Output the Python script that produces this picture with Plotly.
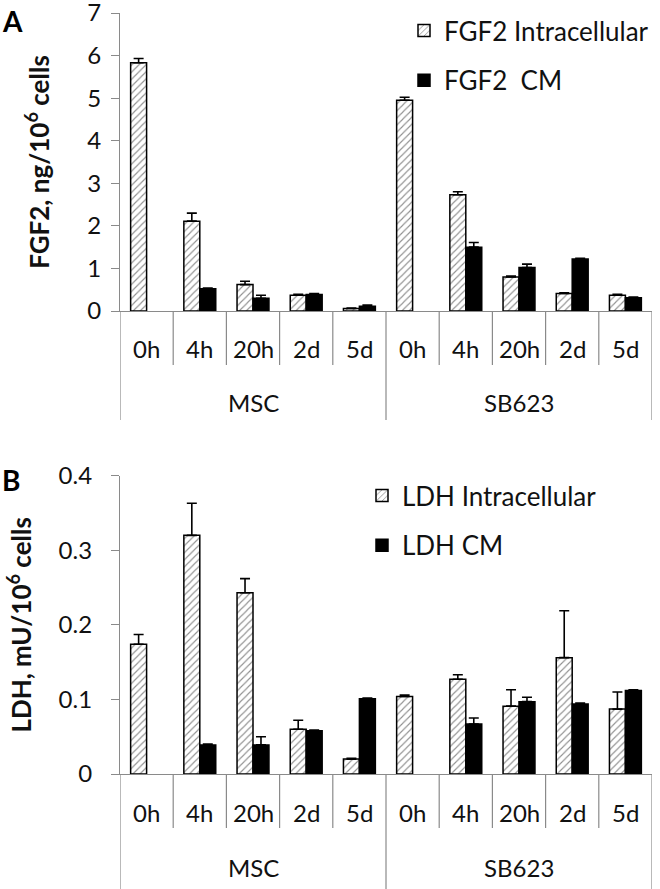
import plotly.graph_objects as go

# ---------------- data ----------------
time_points = ["0h", "4h", "20h", "2d", "5d"]
cell_groups = ["MSC", "SB623"]
categories = [t for g in cell_groups for t in time_points]

fgf2_intra = [5.83, 2.11, 0.62, 0.37, 0.06, 4.95, 2.73, 0.80, 0.41, 0.37]
fgf2_intra_err = [0.10, 0.19, 0.08, 0.02, 0.01, 0.07, 0.07, 0.02, 0.02, 0.02]
fgf2_cm = [None, 0.52, 0.30, 0.39, 0.11, None, 1.50, 1.02, 1.22, 0.31]
fgf2_cm_err = [0, 0.02, 0.07, 0.02, 0.03, 0, 0.11, 0.08, 0.02, 0.02]

ldh_intra = [0.174, 0.320, 0.243, 0.060, 0.020, 0.104, 0.127, 0.091, 0.156, 0.087]
ldh_intra_err = [0.013, 0.043, 0.019, 0.012, 0.001, 0.002, 0.006, 0.022, 0.063, 0.023]
ldh_cm = [None, 0.039, 0.039, 0.058, 0.101, None, 0.067, 0.097, 0.094, 0.112]
ldh_cm_err = [0, 0.001, 0.011, 0.001, 0.001, 0, 0.008, 0.006, 0.001, 0.001]

# ---------------- layout helpers ----------------
W, H = 660, 889
FONT = "Lato"
AXCOL = "#8a8a8a"
TXT = "#111111"


def py(p):
    """pixel row -> paper y"""
    return (H - p) / H


def px(p):
    """pixel column -> paper x"""
    return p / W


xpos = list(range(len(categories)))
x_dom = [px(120), px(652)]
top_dom = [py(311), py(13)]
bot_dom = [py(774), py(475.7)]

fig = go.Figure()

hatch = dict(shape="/", fgcolor="#222222", bgcolor="white", size=5, solidity=0.22)


def add_pair(intra, intra_err, cm, cm_err, name_i, name_c, xa, ya, leg):
    fig.add_trace(go.Bar(
        x=xpos, y=intra, name=name_i, xaxis=xa, yaxis=ya, legend=leg,
        marker=dict(color="white", pattern=hatch, line=dict(color="black", width=1.5)),
        error_y=dict(type="data", symmetric=False, array=intra_err,
                     arrayminus=[0] * len(intra_err), color="black", thickness=1.6, width=5),
    ))
    fig.add_trace(go.Bar(
        x=xpos, y=cm, name=name_c, xaxis=xa, yaxis=ya, legend=leg,
        marker=dict(color="black", line=dict(color="black", width=1.5)),
        error_y=dict(type="data", symmetric=False, array=cm_err,
                     arrayminus=[0] * len(cm_err), color="black", thickness=1.6, width=5),
    ))


add_pair(fgf2_intra, fgf2_intra_err, fgf2_cm, fgf2_cm_err,
         "FGF2 Intracellular", "FGF2  CM", "x", "y", "legend")
add_pair(ldh_intra, ldh_intra_err, ldh_cm, ldh_cm_err,
         "LDH Intracellular", "LDH CM", "x2", "y2", "legend2")

xaxis_common = dict(
    range=[-0.5, len(categories) - 0.5], domain=x_dom, automargin=False,
    tickmode="array", tickvals=xpos, showticklabels=False,
    showline=True, linecolor=AXCOL, linewidth=1.2, ticks="", showgrid=False, zeroline=False,
)
yaxis_common = dict(
    showline=True, linecolor=AXCOL, linewidth=1.2, ticks="outside", ticklen=8,
    tickcolor=AXCOL, showgrid=False, zeroline=False, automargin=False,
    ticklabeloverflow="allow",
    tickfont=dict(family=FONT, size=24, color=TXT),
)
fig.update_layout(
    xaxis=dict(anchor="y", **xaxis_common),
    xaxis2=dict(anchor="y2", **xaxis_common),
    yaxis=dict(domain=top_dom, range=[0, 7], dtick=1, anchor="x", ticklabelstandoff=5,
               title=dict(text="<b>FGF2, ng/10<sup>6</sup> cells</b>", standoff=30,
                          font=dict(family=FONT, size=26, color=TXT)),
               **yaxis_common),
    yaxis2=dict(domain=bot_dom, range=[0, 0.4], dtick=0.1, anchor="x2", ticklabelstandoff=14,
                title=dict(text="<b>LDH, mU/10<sup>6</sup> cells</b>", standoff=19,
                           font=dict(family=FONT, size=26, color=TXT)),
                **yaxis_common),
    barmode="group", bargap=0.4, bargroupgap=0,
    width=W, height=H, margin=dict(l=0, r=0, t=0, b=0, autoexpand=False),
    paper_bgcolor="white", plot_bgcolor="white",
    font=dict(family=FONT, size=24, color=TXT),
    legend=dict(x=px(404), y=py(7), xanchor="left", yanchor="top",
                font=dict(family=FONT, size=26, color=TXT), tracegroupgap=13,
                bgcolor="rgba(0,0,0,0)"),
    legend2=dict(x=px(362), y=py(472), xanchor="left", yanchor="top",
                 font=dict(family=FONT, size=26, color=TXT), tracegroupgap=13,
                 bgcolor="rgba(0,0,0,0)"),
    showlegend=True,
)
# separate legend groups so tracegroupgap spaces items
for i, tr in enumerate(fig.data):
    tr.legendgroup = "g%d" % i

# Excel-style category labels, separators and group labels
shapes = []
annotations = []
n_per = len(time_points)
panels = [(311, 348, 365, 420, 402, "x"), (774, 812, 828, 889, 867, "x2")]
for (axis_y_px, cat_px, short_px, long_px, label_px, xr) in panels:
    for b in range(len(categories) + 1):
        is_long = (b % n_per == 0)
        shapes.append(dict(type="line", xref=xr, yref="paper", x0=b - 0.5, x1=b - 0.5,
                           y0=py(axis_y_px), y1=py(long_px if is_long else short_px),
                           line=dict(color=AXCOL, width=1.2)))
    for xi, cat in zip(xpos, categories):
        annotations.append(dict(text=cat, xref=xr, yref="paper", x=xi, y=py(cat_px),
                                showarrow=False, yanchor="middle",
                                font=dict(family=FONT, size=24, color=TXT)))
    for gi, g in enumerate(cell_groups):
        center = gi * n_per + (n_per - 1) / 2
        annotations.append(dict(text=g, xref=xr, yref="paper", x=center, y=py(label_px),
                                showarrow=False, yanchor="middle",
                                font=dict(family=FONT, size=24, color=TXT)))

annotations.append(dict(text="<b>A</b>", xref="paper", yref="paper", x=0, y=py(2),
                        xanchor="left", yanchor="top", showarrow=False,
                        font=dict(family=FONT, size=28, color="black")))
annotations.append(dict(text="<b>B</b>", xref="paper", yref="paper", x=0, y=py(461),
                        xanchor="left", yanchor="top", showarrow=False,
                        font=dict(family=FONT, size=28, color="black")))

fig.update_layout(shapes=shapes, annotations=annotations)

# remove the default page margin so the figure sits at the window's corner
fig.write_html("out.html", config={"displayModeBar": False},
               post_script="document.body.style.margin='0';")
